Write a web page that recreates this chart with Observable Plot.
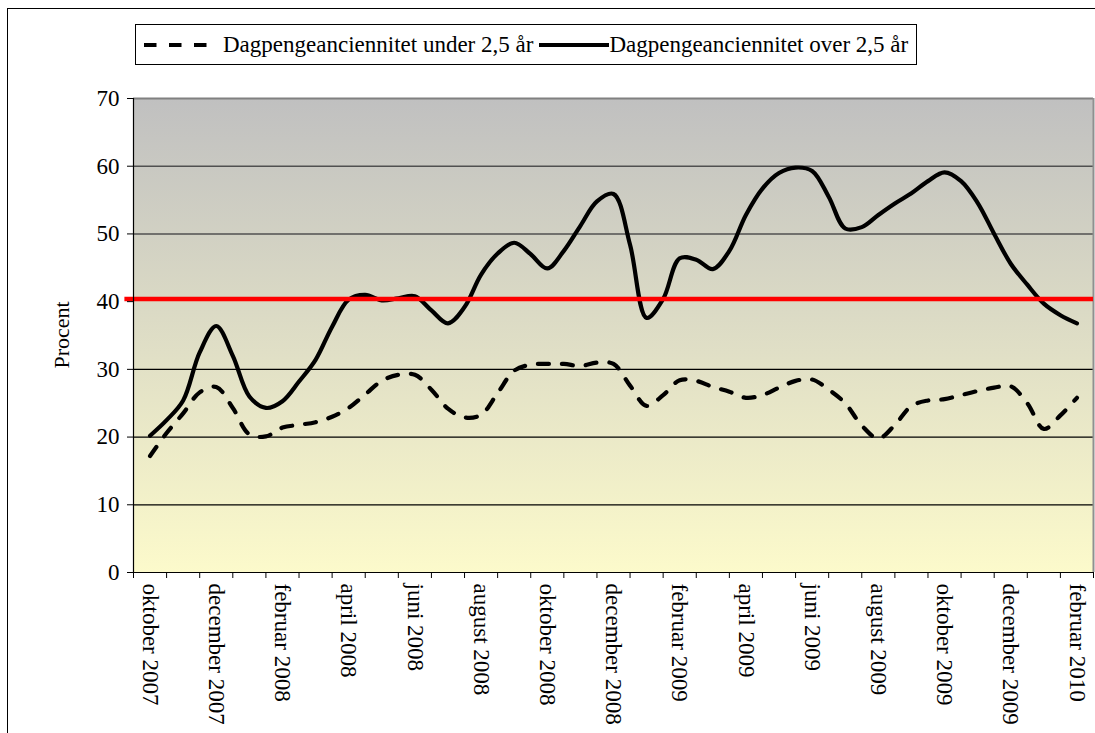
<!DOCTYPE html>
<html><head><meta charset="utf-8">
<script src="https://cdn.jsdelivr.net/npm/d3@7"></script>
<script src="https://cdn.jsdelivr.net/npm/@observablehq/plot@0.6"></script>
<style>
body{margin:0;background:#fff;font-family:"Liberation Serif","Times New Roman",serif;}
#wrap{position:relative;width:1095px;height:733px;overflow:hidden;background:#fff;}
#border{position:absolute;left:7px;top:8px;width:1100px;height:740px;border:1px solid #000;box-sizing:border-box;}
#legend{position:absolute;left:135px;top:24px;height:41px;box-sizing:border-box;border:1px solid #000;background:#fff;display:flex;align-items:center;padding:0 8px 0 8px;font-size:23px;white-space:nowrap;color:#000;}
#legend svg{display:block;}
#ylabel{position:absolute;left:62px;top:335px;transform:translate(-50%,-50%) rotate(-90deg);font-size:22px;white-space:nowrap;}
#chart{position:absolute;left:0;top:0;}
</style></head><body>
<div id="wrap"><div id="border"></div><div id="chart"></div>
<div id="legend">
<svg width="75" height="10"><line x1="0" y1="5" x2="75" y2="5" stroke="#000" stroke-width="4" stroke-dasharray="12.5,12.5"/></svg>
<span style="margin-left:4px">Dagpengeanciennitet under 2,5 år</span>
<svg width="70" height="10" style="margin-left:6px"><line x1="0" y1="5" x2="70" y2="5" stroke="#000" stroke-width="4"/></svg>
<span>Dagpengeanciennitet over 2,5 år</span>
</div>
<div id="ylabel">Procent</div>
</div>
<script>
// Months (categories)
const months = ["oktober 2007","november 2007","december 2007","januar 2008","februar 2008","marts 2008","april 2008","maj 2008","juni 2008","juli 2008","august 2008","september 2008","oktober 2008","november 2008","december 2008","januar 2009","februar 2009","marts 2009","april 2009","maj 2009","juni 2009","juli 2009","august 2009","september 2009","oktober 2009","november 2009","december 2009","januar 2010","februar 2010"];
// observations every half month, position in months from oktober 2007
const periods = d3.range(0, 28.01, 0.5);
const under25 = [17.2,20.6,23.5,26.6,27.4,24.3,20.4,20.1,21.4,21.8,
 22.2,23.0,24.3,26.3,28.3,29.2,29.2,27.0,24.2,22.9,
 23.3,26.5,29.8,30.7,30.8,30.8,30.5,31.0,30.8,27.6,
 24.6,26.2,28.4,28.3,27.4,26.7,25.8,26.2,27.3,28.3,
 28.5,27.0,25.0,21.7,19.8,21.8,24.6,25.4,25.6,26.2,
 26.8,27.3,27.5,25.0,21.2,23.2,25.8];
const over25 = [20.2,22.5,25.4,32.5,36.4,32.0,26.0,24.3,25.3,28.2,
 31.4,36.3,40.3,41.0,40.2,40.5,40.8,38.7,36.8,39.2,
 44.0,47.1,48.7,47.0,44.9,47.5,51.2,54.8,55.9,48.4,
 37.6,40.4,46.4,46.2,44.8,47.5,52.8,56.7,59.0,59.8,
 59.3,55.5,50.8,51.0,52.8,54.5,56.0,57.8,59.1,57.8,
 54.6,50.0,45.6,42.5,39.7,38.0,36.8];
const referenceLevel = 40.4;
const yTicks = [0,10,20,30,40,50,60,70];

const underData = periods.map((t,i)=>({t, v: under25[i]}));
const overData = periods.map((t,i)=>({t, v: over25[i]}));
const monthData = months.map((m,i)=>({i, m}));
const tickPos = d3.range(-0.5, months.length, 1);

const svg = Plot.plot({
  width:1095, height:733,
  marginLeft:133, marginRight:2, marginTop:98, marginBottom:161,
  x:{domain:[-0.5, months.length-0.5], axis:null, label:null},
  y:{domain:[0,70], axis:null, label:null},
  style:{fontFamily:'"Liberation Serif","Times New Roman",serif', fontSize:"23px", background:"transparent", color:"#000", overflow:"visible"},
  marks:[
    Plot.frame({fill:"url(#bg)", stroke:null}),
    Plot.ruleY([10,20,30], {stroke:"#000", strokeWidth:1.2}),
    Plot.ruleY([50,60], {stroke:"#505050", strokeWidth:1.6}),
    Plot.ruleY([70], {stroke:"#808080", strokeWidth:2}),
    Plot.ruleX([months.length-0.5], {stroke:"#909090", strokeWidth:2}),
    Plot.line(underData, {x:"t", y:"v", stroke:"#000", strokeWidth:4.2, strokeDasharray:"11,13", curve:"catmull-rom"}),
    Plot.line(overData, {x:"t", y:"v", stroke:"#000", strokeWidth:4.2, curve:"catmull-rom"}),
    Plot.ruleY([referenceLevel], {x1:-0.76, x2:months.length-0.5, stroke:"#ff0000", strokeWidth:4.5}),
    Plot.ruleX([-0.5], {stroke:"#000", strokeWidth:1.2}),
    Plot.ruleY([0], {stroke:"#000", strokeWidth:1.2}),
    Plot.axisY({ticks:yTicks, tickSize:6, tickPadding:8, tickFormat:d=>String(d), stroke:"#000", label:null}),
    Plot.axisX({ticks:tickPos, tickSize:6, tickFormat:()=>"", stroke:"#000", label:null}),
    Plot.text(monthData.filter(d=>d.i%2===0), {x:"i", y:0, text:"m", rotate:90, textAnchor:"start", lineAnchor:"middle", dy:11, fill:"#000"})
  ]
});
d3.select(svg).insert("defs", ":first-child").html(
  '<linearGradient id="bg" x1="0" y1="0" x2="0" y2="1">' +
  '<stop offset="0" stop-color="#c0c0c0"/><stop offset="1" stop-color="#fcfacb"/></linearGradient>');
document.getElementById("chart").appendChild(svg);
</script>
</body></html>
